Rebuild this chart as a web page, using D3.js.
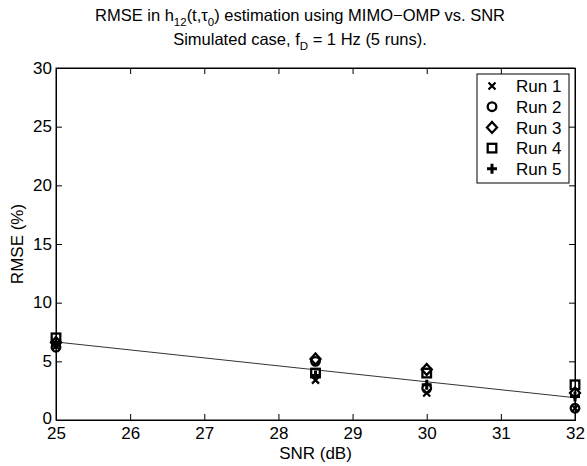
<!DOCTYPE html>
<html><head><meta charset="utf-8">
<script src="https://cdn.jsdelivr.net/npm/d3@7"></script>
<style>body{margin:0;background:#fff}svg{display:block}text{font-family:"Liberation Sans",Arial,sans-serif;fill:#000}</style>
</head><body><svg id="c" width="587" height="466"></svg>
<script>
const snr = [25, 28.5, 30, 32];
const run1 = [6.3, 3.4, 2.3, 1.0];
const run2 = [6.2, 5.0, 2.7, 1.0];
const run3 = [6.6, 5.2, 4.3, 2.3];
const run4 = [7.0, 4.0, 4.0, 3.0];
const run5 = [6.5, 3.8, 3.0, 2.0];
const fitX = [25, 32];
const fitY = [6.65, 1.9];
const xTicks = [25, 26, 27, 28, 29, 30, 31, 32];
const yTicks = [0, 5, 10, 15, 20, 25, 30];
const runNames = ["Run 1", "Run 2", "Run 3", "Run 4", "Run 5"];
const runSymbols = ["x", "o", "d", "s", "+"];

const svg = d3.select("#c");
const L = 56, R = 575, T = 68, B = 420;
const FS = 17;
const x = d3.scaleLinear().domain([25, 32]).range([L, R]);
const y = d3.scaleLinear().domain([0, 30]).range([B, T]);

svg.append("rect").attr("x", L).attr("y", T).attr("width", R - L).attr("height", B - T)
  .attr("fill", "none").attr("stroke", "#000").attr("stroke-width", 1);

const xa = svg.append("g").attr("transform", `translate(0,${B})`)
  .call(d3.axisBottom(x).tickValues(xTicks).tickSize(-6).tickPadding(12).tickFormat(d3.format("d")));
const xt = svg.append("g").attr("transform", `translate(0,${T})`)
  .call(d3.axisTop(x).tickValues(xTicks).tickSize(-6).tickFormat(""));
const ya = svg.append("g").attr("transform", `translate(${L},0)`)
  .call(d3.axisLeft(y).tickValues(yTicks).tickSize(-6).tickPadding(4).tickFormat(d3.format("d")));
const yr = svg.append("g").attr("transform", `translate(${R},0)`)
  .call(d3.axisRight(y).tickValues(yTicks).tickSize(-6).tickFormat(""));
[xa, xt, ya, yr].forEach(g => {
  g.select(".domain").attr("stroke", "#000");
  g.selectAll(".tick line").attr("stroke", "#000");
  g.selectAll("text").attr("font-size", FS).attr("font-family", '"Liberation Sans",Arial,sans-serif').attr("fill", "#000");
});
xa.selectAll("text").attr("dy", "0.4em");
ya.selectAll("text").attr("dy", d => d === 0 ? "0.2em" : "0.3em");

svg.append("line").attr("x1", x(fitX[0])).attr("y1", y(fitY[0])).attr("x2", x(fitX[1])).attr("y2", y(fitY[1]))
  .attr("stroke", "#333").attr("stroke-width", 1);

function marker(g, sym, cx, cy) {
  let el;
  if (sym === "x") el = g.append("path").attr("d", `M${cx-3.5},${cy-3.5}L${cx+3.5},${cy+3.5}M${cx-3.5},${cy+3.5}L${cx+3.5},${cy-3.5}`).attr("stroke-width", 2.2);
  else if (sym === "o") el = g.append("circle").attr("cx", cx).attr("cy", cy).attr("r", 4.3).attr("stroke-width", 2.3);
  else if (sym === "d") el = g.append("path").attr("d", `M${cx},${cy-5.5}L${cx+5},${cy}L${cx},${cy+5.5}L${cx-5},${cy}Z`).attr("stroke-width", 2.3);
  else if (sym === "s") el = g.append("rect").attr("x", cx - 4.3).attr("y", cy - 4.3).attr("width", 8.6).attr("height", 8.6).attr("stroke-width", 2.3);
  else el = g.append("path").attr("d", `M${cx-5},${cy}L${cx+5},${cy}M${cx},${cy-5}L${cx},${cy+5}`).attr("stroke-width", 3);
  el.attr("stroke", "#000").attr("fill", "none");
}

const runs = [run1, run2, run3, run4, run5];
const mg = svg.append("g");
runs.forEach((r, i) => r.forEach((v, j) => marker(mg, runSymbols[i], x(snr[j]), y(v))));

const lg = svg.append("g");
lg.append("rect").attr("x", 477).attr("y", 74).attr("width", 92).attr("height", 109)
  .attr("fill", "#fff").attr("stroke", "#000").attr("stroke-width", 1);
runNames.forEach((n, i) => {
  const cy = 86 + i * 20.7;
  marker(lg, runSymbols[i], 492, cy);
  lg.append("text").attr("x", 516).attr("y", cy).attr("dy", "0.36em").attr("font-size", FS).text(n);
});

svg.append("text").attr("x", (L + R) / 2).attr("y", 459).attr("text-anchor", "middle").attr("font-size", FS).text("SNR (dB)");
svg.append("text").attr("transform", `translate(23,${(T + B) / 2}) rotate(-90)`).attr("text-anchor", "middle").attr("font-size", FS).text("RMSE (%)");

const TF = 16.5, SF = 11.5;
const t1 = svg.append("text").attr("x", 300).attr("y", 21).attr("text-anchor", "middle").attr("font-size", TF);
t1.append("tspan").text("RMSE in h");
t1.append("tspan").attr("dy", 5).attr("font-size", SF).text("12");
t1.append("tspan").attr("dy", -5).text("(t,τ");
t1.append("tspan").attr("dy", 5).attr("font-size", SF).text("0");
t1.append("tspan").attr("dy", -5).text(") estimation using MIMO−OMP vs. SNR");
const t2 = svg.append("text").attr("x", 300).attr("y", 45).attr("text-anchor", "middle").attr("font-size", TF);
t2.append("tspan").text("Simulated case, f");
t2.append("tspan").attr("dy", 5).attr("font-size", SF).text("D");
t2.append("tspan").attr("dy", -5).text(" = 1 Hz (5 runs).");
</script></body></html>
